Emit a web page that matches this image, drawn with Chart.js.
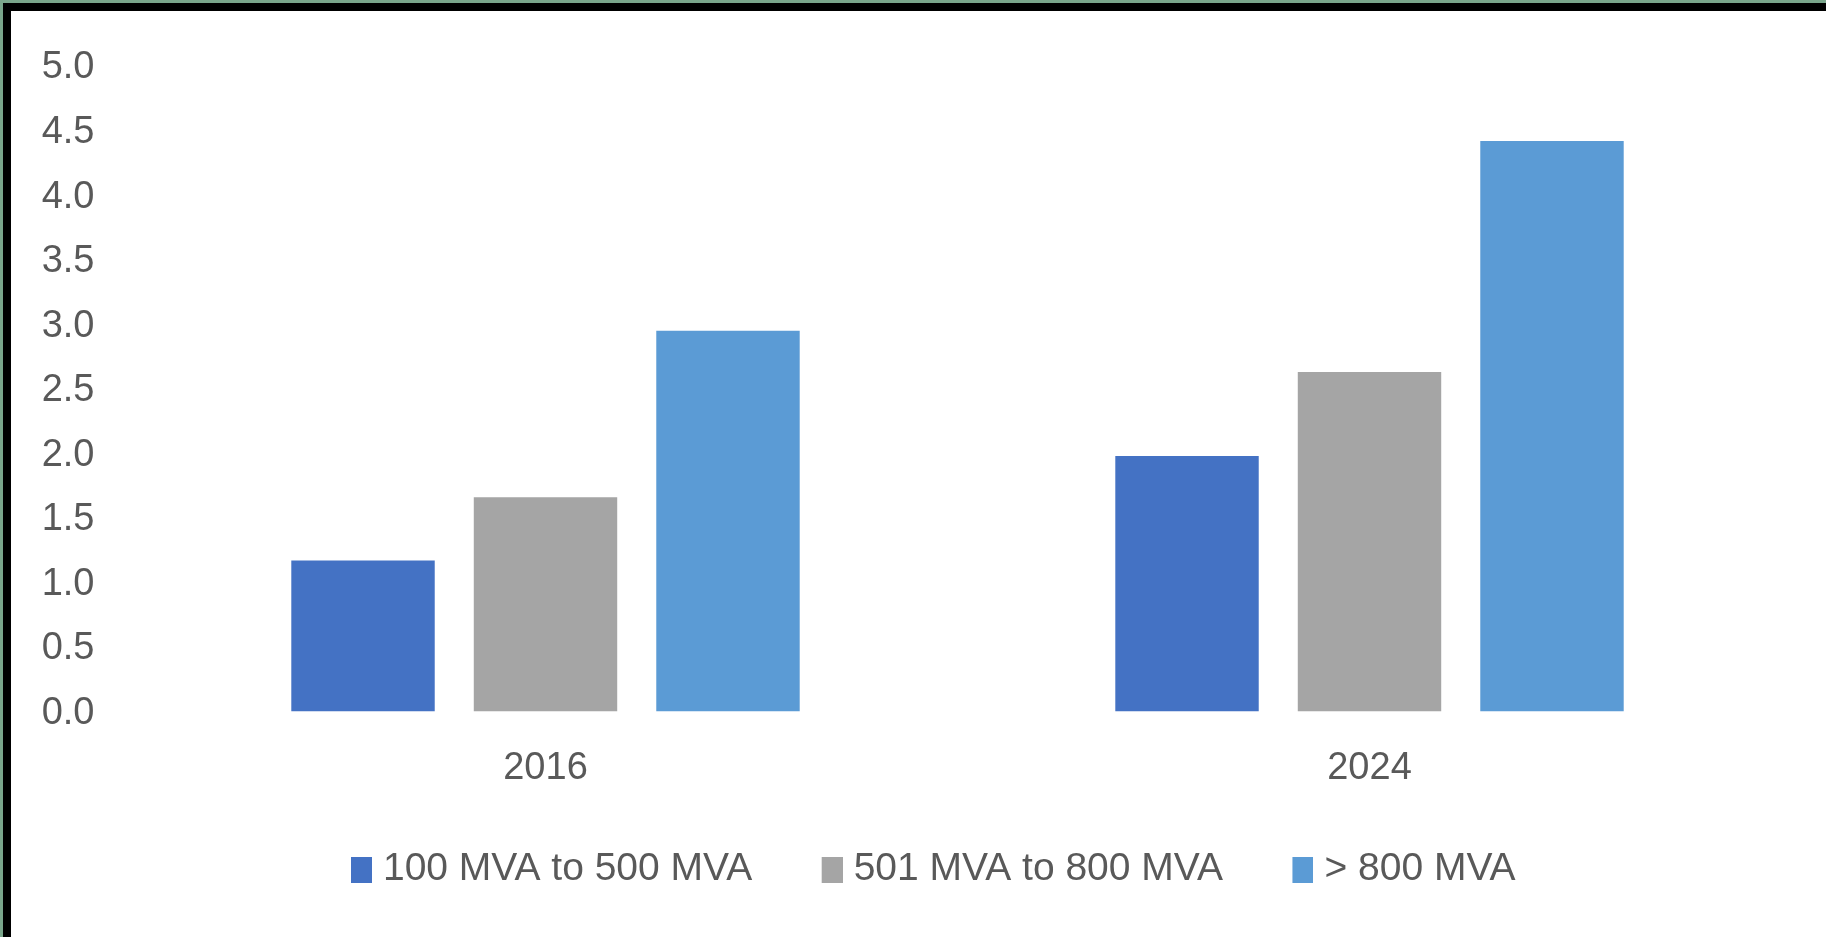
<!DOCTYPE html>
<html>
<head>
<meta charset="utf-8">
<script src="https://cdn.jsdelivr.net/npm/chart.js@4/dist/chart.umd.min.js"></script>
<style>
  html, body { margin: 0; padding: 0; width: 1826px; height: 937px; overflow: hidden; background: #ffffff; }
  #frameGreen { position: absolute; left: 0; top: 0; width: 1826px; height: 937px; background: #7aa68b; }
  #frameBlack { position: absolute; left: 3px; top: 3px; width: 1823px; height: 934px; background: #000000; }
  #frameWhite { position: absolute; left: 11px; top: 11px; width: 1815px; height: 926px; background: #ffffff; }
  #chart { position: absolute; left: 0; top: 0; }
</style>
</head>
<body>
<div id="frameGreen"></div>
<div id="frameBlack"></div>
<div id="frameWhite"></div>
<canvas id="chart" width="1826" height="937"></canvas>
<script>
// ---- data ----
const categories = ['2016', '2024'];
const seriesNames = ['100 MVA to 500 MVA', '501 MVA to 800 MVA', '> 800 MVA'];
const series100to500 = [1.17, 1.98];
const series501to800 = [1.66, 2.63];
const seriesOver800 = [2.95, 4.42];
const yTickMin = 0;
const yTickMax = 5;
const yTickStep = 0.5;

// ---- styles ----
const colors = ['#4472C4', '#A5A5A5', '#5B9BD5'];
const textColor = '#595959';
const fontFamily = '"Liberation Sans", Arial, sans-serif';
const axisFontSize = 38;
const legendFontSize = 39;

// legend swatch: square placed at the right end of a wider transparent image
const legendBoxW = 66;
function makeSwatch(color) {
  const c = document.createElement('canvas');
  c.width = legendBoxW + legendFontSize - 22;
  c.height = 26;
  const ctx = c.getContext('2d');
  ctx.fillStyle = color;
  ctx.fillRect(c.width - 21, 0, 21, 26);
  return c;
}

const seriesValues = [series100to500, series501to800, seriesOver800];
const datasets = seriesNames.map((name, i) => ({
  label: name,
  data: seriesValues[i],
  backgroundColor: colors[i],
  borderWidth: 0,
  pointStyle: makeSwatch(colors[i]),
  categoryPercentage: 0.6644,
  barPercentage: 0.786
}));

new Chart(document.getElementById('chart'), {
  type: 'bar',
  data: { labels: categories, datasets },
  options: {
    responsive: false,
    animation: false,
    events: [],
    layout: { padding: { left: 31.5, right: 44.5, top: 66, bottom: 38 } },
    scales: {
      x: {
        grid: { display: false, drawTicks: false },
        border: { display: false },
        ticks: { color: textColor, font: { family: fontFamily, size: axisFontSize }, padding: 34 },
        afterFit(scale) { scale.height = 122.5; }
      },
      y: {
        min: yTickMin,
        max: yTickMax,
        grid: { display: false, drawTicks: false },
        border: { display: false },
        ticks: {
          stepSize: yTickStep,
          color: textColor,
          font: { family: fontFamily, size: axisFontSize },
          padding: 39,
          labelOffset: 2,
          callback: (v) => Number(v).toFixed(1)
        },
        afterFit(scale) { scale.width = 102; }
      }
    },
    plugins: {
      tooltip: { enabled: false },
      legend: {
        position: 'bottom',
        labels: {
          usePointStyle: true,
          pointStyleWidth: legendBoxW,
          padding: 16,
          color: textColor,
          font: { family: fontFamily, size: legendFontSize }
        }
      }
    }
  }
});
</script>
</body>
</html>
